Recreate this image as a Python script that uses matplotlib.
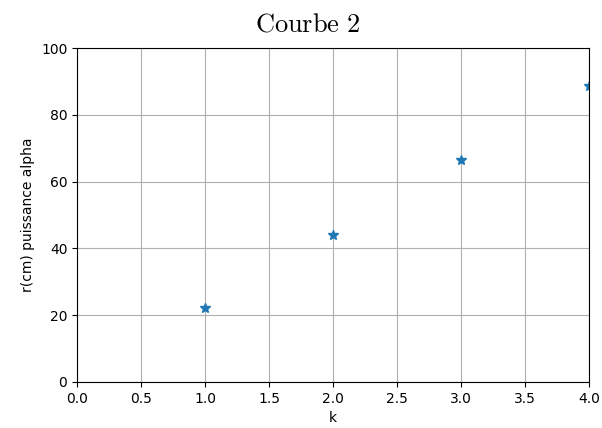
import matplotlib
matplotlib.use("Agg")
import matplotlib.pyplot as plt

k = [1, 2, 3, 4]
r_alpha = [22.2, 44.1, 66.5, 88.8]

plt.rcParams['mathtext.fontset'] = 'cm'

fig = plt.figure(figsize=(6.02, 4.28), dpi=100)
ax = fig.add_axes([0.128, 0.1075, 0.850, 0.780])
ax.plot(k, r_alpha, '*', color='#1f77b4', markersize=7)
ax.set_xlim(0, 4)
ax.set_ylim(0, 100)
ax.grid(True)
ax.set_xlabel('k')
ax.set_ylabel('r(cm) puissance alpha')
# le titre est un peu decale vers la gauche dans l'original
ax.set_title(r'$\mathrm{Courbe\ 2}$', fontsize=19, pad=12, x=0.45)
fig.savefig('out.png', dpi=100)
